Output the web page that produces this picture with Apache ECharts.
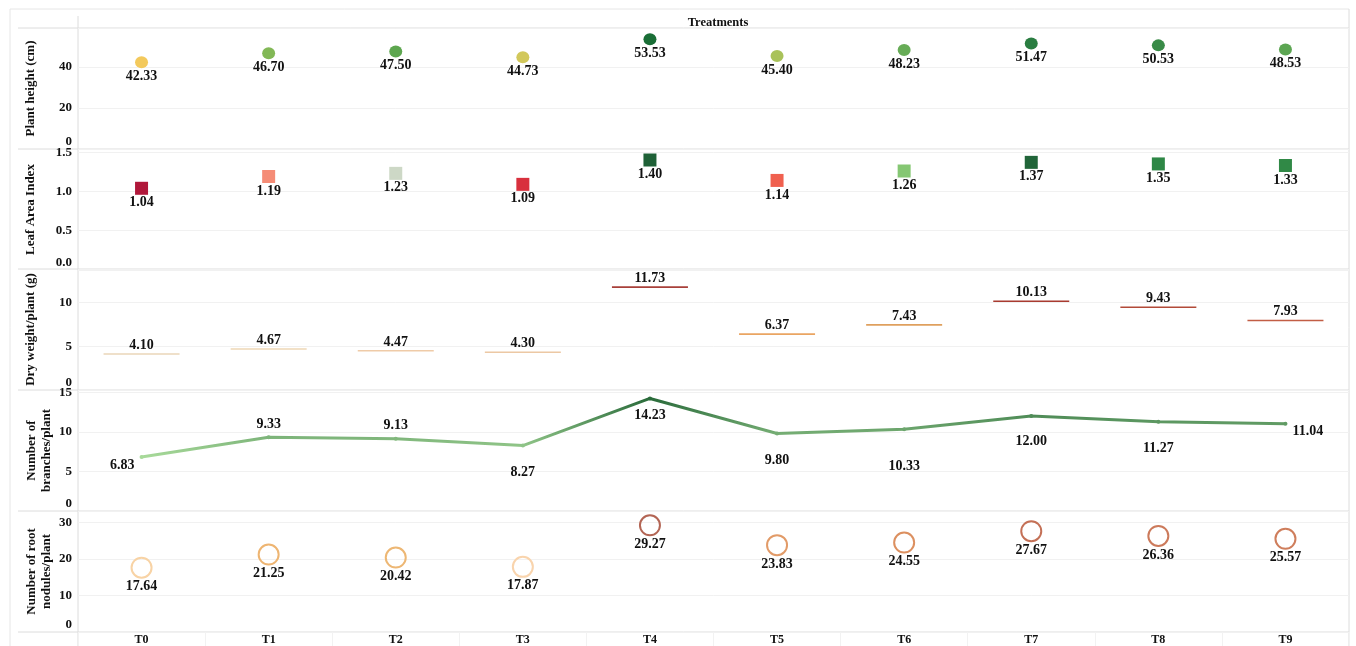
<!DOCTYPE html>
<html>
<head>
<meta charset="utf-8">
<title>Treatments</title>
<script src="https://cdn.jsdelivr.net/npm/echarts@6.0.0/dist/echarts.min.js"></script>
<style>
  html, body { margin: 0; padding: 0; background: #fff; }
  #chart { width: 1356px; height: 646px; }
</style>
</head>
<body>
<div id="chart"></div>
<script>
const categories = ['T0', 'T1', 'T2', 'T3', 'T4', 'T5', 'T6', 'T7', 'T8', 'T9'];
const plantHeight = [42.33, 46.70, 47.50, 44.73, 53.53, 45.40, 48.23, 51.47, 50.53, 48.53];
const leafAreaIndex = [1.04, 1.19, 1.23, 1.09, 1.40, 1.14, 1.26, 1.37, 1.35, 1.33];
const dryWeight = [4.10, 4.67, 4.47, 4.30, 11.73, 6.37, 7.43, 10.13, 9.43, 7.93];
const branches = [6.83, 9.33, 9.13, 8.27, 14.23, 9.80, 10.33, 12.00, 11.27, 11.04];
const nodules = [17.64, 21.25, 20.42, 17.87, 29.27, 23.83, 24.55, 27.67, 26.36, 25.57];

// colour palettes (one per treatment)
const heightColors = ['#f3c95c', '#82b856', '#5da64f', '#d2c85b', '#1a6e36', '#a9c25a', '#67ac57', '#2a7d41', '#398b47', '#5ca552'];
const laiColors = ['#b0173a', '#f58c76', '#cdd8c6', '#d8303d', '#1f6137', '#f0604f', '#85c773', '#216539', '#2e8746', '#308946'];
const dryColors = ['#ead6b8', '#eed7b6', '#efcba8', '#ecc8a4', '#a8403a', '#eaa562', '#dfa05e', '#a83b30', '#b24a38', '#c25e45'];
const noduleColors = ['#f8d3a5', '#eeb572', '#edb774', '#f9d4ad', '#b36554', '#e29b68', '#dc9060', '#c47056', '#cc7a5b', '#cf7e5c'];

const FONT = '"Liberation Serif", "DejaVu Serif", serif';
const tops = [28, 149, 269, 390, 511];
const panelH = 121;

const panels = [
  { name: 'Plant height (cm)', max: 59, interval: 20, dec: 0 },
  { name: 'Leaf Area Index', max: 1.54, interval: 0.5, dec: 1 },
  { name: 'Dry weight/plant (g)', max: 13.8, interval: 5, dec: 0 },
  { name: 'Number of\nbranches/plant', max: 15.3, interval: 5, dec: 0 },
  { name: 'Number of root\nnodules/plant', max: 33.2, interval: 10, dec: 0 }
];

const labelText = {
  fontFamily: FONT, fontWeight: 'bold', fontSize: 14, color: '#111'
};
const tickText = { fontFamily: FONT, fontWeight: 'bold', fontSize: 13, color: '#111' };

const grid = tops.map(t => ({
  left: 78, right: 7, top: t, height: panelH, outerBoundsMode: 'none'
}));

const xAxis = tops.map((t, i) => ({
  type: 'category',
  gridIndex: i,
  data: categories,
  axisLine: { show: false },
  axisTick: i === 4 ? { show: true, length: 14, lineStyle: { color: '#f2f2f2' } } : { show: false },
  axisLabel: i === 4 ? {
    show: true, margin: 2, fontFamily: FONT, fontWeight: 'bold', fontSize: 12, color: '#111'
  } : { show: false },
  splitLine: { show: false }
}));

const yAxis = panels.map((p, i) => ({
  type: 'value',
  gridIndex: i,
  min: 0,
  max: p.max,
  interval: p.interval,
  name: p.name,
  nameLocation: 'middle',
  nameGap: p.name.indexOf('\n') >= 0 ? 24 : 40,
  nameMoveOverlap: false,
  nameTextStyle: { fontFamily: FONT, fontWeight: 'bold', fontSize: 13, color: '#111', lineHeight: 15 },
  axisLine: { show: false },
  axisTick: { show: false },
  axisLabel: {
    margin: 6,
    ...tickText,
    showMaxLabel: false,
    // the zero label sits a little above its grid line, as in the original
    formatter: v => (v === 0 ? '{z|' + v.toFixed(p.dec) + '}' : v.toFixed(p.dec)),
    rich: { z: { ...tickText, padding: [0, 0, 15, 0] } }
  },
  splitLine: { show: true, lineStyle: { color: '#f1f1f1', width: 1 } }
}));

const fmt = o => o.value.toFixed(2);

// per-point label placement for the branches line
const branchLabel = [
  { position: 'left', distance: 5, offset: [0, 8] },
  { position: 'top', distance: 4 },
  { position: 'top', distance: 4 },
  { position: 'bottom', distance: 18 },
  { position: 'bottom', distance: 8 },
  { position: 'bottom', distance: 18 },
  { position: 'bottom', distance: 28 },
  { position: 'bottom', distance: 16 },
  { position: 'bottom', distance: 18 },
  { position: 'right', distance: 5, offset: [0, 8] }
];

const series = [
  {
    type: 'scatter', xAxisIndex: 0, yAxisIndex: 0,
    symbol: 'circle', symbolSize: [13, 12],
    itemStyle: { opacity: 1 },
    data: plantHeight.map((v, i) => ({ value: v, itemStyle: { color: heightColors[i] } })),
    label: { show: true, position: 'bottom', distance: 1, formatter: fmt, ...labelText }
  },
  {
    type: 'scatter', xAxisIndex: 1, yAxisIndex: 1,
    symbol: 'rect', symbolSize: [13, 13],
    itemStyle: { opacity: 1 },
    data: leafAreaIndex.map((v, i) => ({ value: v, itemStyle: { color: laiColors[i] } })),
    label: { show: true, position: 'bottom', distance: 1, formatter: fmt, ...labelText }
  },
  {
    type: 'scatter', xAxisIndex: 2, yAxisIndex: 2,
    symbol: 'rect', symbolSize: [76, 1.6],
    itemStyle: { opacity: 1 },
    data: dryWeight.map((v, i) => ({ value: v, itemStyle: { color: dryColors[i] } })),
    label: { show: true, position: 'top', distance: 1, formatter: fmt, ...labelText }
  },
  {
    type: 'line', xAxisIndex: 3, yAxisIndex: 3,
    symbol: 'circle', symbolSize: 4, showSymbol: true,
    lineStyle: { width: 3 },
    data: branches.map((v, i) => ({ value: v, label: branchLabel[i] })),
    label: { show: true, formatter: fmt, ...labelText }
  },
  {
    type: 'scatter', xAxisIndex: 4, yAxisIndex: 4,
    symbol: 'circle', symbolSize: 20,
    itemStyle: { opacity: 1 },
    data: nodules.map((v, i) => ({
      value: v,
      itemStyle: { color: 'rgba(255,255,255,0)', borderColor: noduleColors[i], borderWidth: 2 }
    })),
    label: { show: true, position: 'bottom', distance: 1, formatter: fmt, ...labelText }
  }
];

const frame = '#dcdcdc';
const hLines = [28, 149, 269, 390, 511, 632].map(y => ({
  type: 'line', silent: true,
  shape: { x1: 18, y1: y, x2: 1349, y2: y },
  style: { stroke: frame, lineWidth: 1 }
}));

const graphic = [
  { type: 'line', silent: true, shape: { x1: 10, y1: 9, x2: 1349, y2: 9 }, style: { stroke: '#e6e6e6', lineWidth: 1 } },
  { type: 'line', silent: true, shape: { x1: 10, y1: 9, x2: 10, y2: 646 }, style: { stroke: '#e6e6e6', lineWidth: 1 } },
  { type: 'line', silent: true, shape: { x1: 1349, y1: 9, x2: 1349, y2: 646 }, style: { stroke: frame, lineWidth: 1 } },
  { type: 'line', silent: true, shape: { x1: 78, y1: 16, x2: 78, y2: 646 }, style: { stroke: frame, lineWidth: 1 } },
  ...hLines
];

const chart = echarts.init(document.getElementById('chart'), null, { renderer: 'canvas' });
chart.setOption({
  animation: false,
  backgroundColor: '#fff',
  title: {
    text: 'Treatments',
    left: 713, top: 11, textAlign: 'center',
    textStyle: { fontFamily: FONT, fontWeight: 'bold', fontSize: 12.5, color: '#111' }
  },
  grid,
  xAxis,
  yAxis,
  visualMap: {
    show: false,
    type: 'continuous',
    seriesIndex: 3,
    dimension: 1,
    min: 6.83,
    max: 14.23,
    inRange: { color: ['#a8da9a', '#2a6b3b'] }
  },
  series,
  graphic
});
</script>
</body>
</html>
